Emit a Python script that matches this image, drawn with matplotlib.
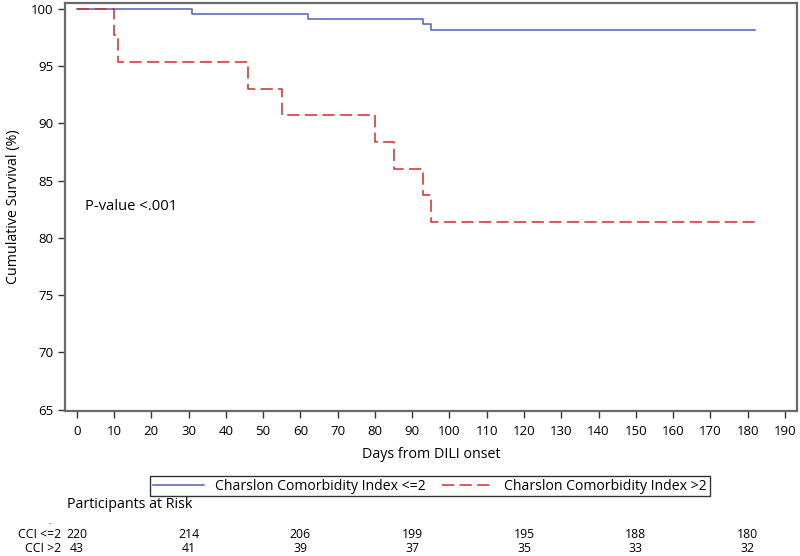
import numpy as np
import matplotlib
matplotlib.use("Agg")
import matplotlib.pyplot as plt
from matplotlib.transforms import blended_transform_factory

plt.rcParams['font.family'] = ['Open Sans', 'DejaVu Sans']

# Kaplan-Meier steps
low_days = [0, 31, 62, 93, 95, 182]
low_surv = [100, 99.55, 99.09, 98.64, 98.18, 98.18]
high_days = [0, 10, 11, 46, 55, 80, 85, 93, 95, 182]
high_surv = [100, 97.67, 95.35, 93.02, 90.70, 88.37, 86.05, 83.72, 81.40, 81.40]

risk_days = [0, 30, 60, 90, 120, 150, 180]
risk_low = [220, 214, 206, 199, 195, 188, 180]
risk_high = [43, 41, 39, 37, 35, 33, 32]

fig = plt.figure(figsize=(8, 5.56), dpi=100)
ax = fig.add_axes([0.081, 0.261, 0.915, 0.7335])

ax.step(low_days, low_surv, where='post', color='#4f5fbf', lw=1.1,
        label='Charslon Comorbidity Index <=2')
ax.step(high_days, high_surv, where='post', color='#d42a2a', lw=1.1,
        dashes=(8, 3.5), label='Charslon Comorbidity Index >2')

ax.set_xlim(-3.2, 193.2)
ax.set_ylim(64.9, 100.5)
ax.set_xticks(np.arange(0, 191, 10))
ax.set_yticks(np.arange(65, 101, 5))
ax.tick_params(labelsize=9.5, length=5, width=1, color='#333333', pad=3)
ax.tick_params(axis='x', pad=5)
for s in ax.spines.values():
    s.set_color('#6a6a6a')
    s.set_linewidth(1.6)

ax.set_xlabel('Days from DILI onset', fontsize=10.3, labelpad=7)
ax.set_ylabel('Cumulative Survival (%)', fontsize=10.3, labelpad=7)
ax.text(2.2, 82.7, 'P-value <.001', fontsize=10.6, va='center', ha='left')

fig.legend(loc='center', bbox_to_anchor=(430 / 800, 1 - 486 / 556),
           ncol=2, fontsize=10.1, frameon=True, fancybox=False,
           edgecolor='black', handlelength=3.6, borderpad=0.2,
           columnspacing=1.2, handletextpad=0.8)

fig.text(67 / 800, 1 - 504 / 556, 'Participants at Risk', fontsize=10.3,
         va='center', ha='left')

trans = blended_transform_factory(ax.transData, fig.transFigure)
fig.text(50 / 800, 1 - 523 / 556, '.', fontsize=6, ha='center', va='center')
fig.text(61 / 800, 1 - 535 / 556, 'CCI <=2', fontsize=8.8, ha='right', va='center')
fig.text(61 / 800, 1 - 549 / 556, 'CCI >2', fontsize=8.8, ha='right', va='center')
for d, a, b in zip(risk_days, risk_low, risk_high):
    ax.text(d, 1 - 535 / 556, str(a), transform=trans, fontsize=8.8,
            ha='center', va='center')
    ax.text(d, 1 - 549 / 556, str(b), transform=trans, fontsize=8.8,
            ha='center', va='center')

fig.savefig('out.png', dpi=100)
